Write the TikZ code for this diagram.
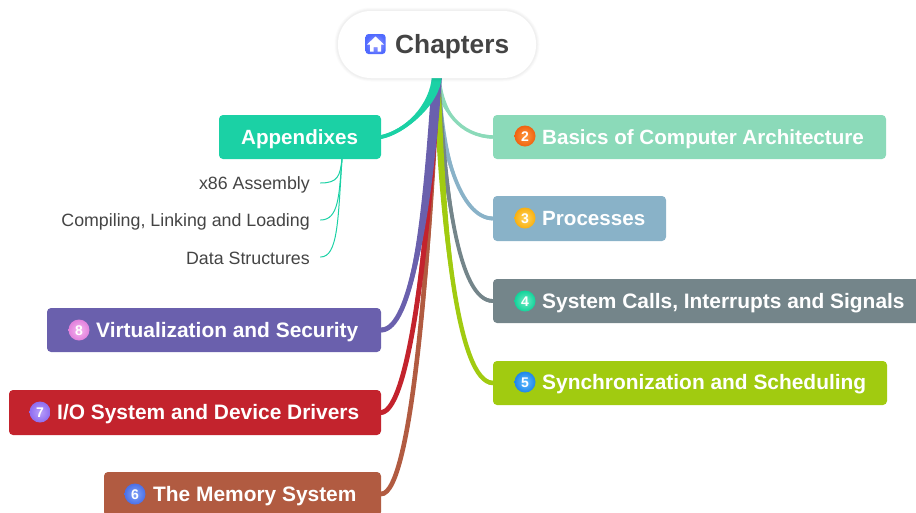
\documentclass[tikz,border=0pt]{standalone}
\usepackage{fontspec}
\setmainfont{Liberation Sans}
\definecolor{cApp}{HTML}{1BD1A5}
\definecolor{cBas}{HTML}{8BDAB9}
\definecolor{cPro}{HTML}{89B2C8}
\definecolor{cSys}{HTML}{74858A}
\definecolor{cSyn}{HTML}{A1CB10}
\definecolor{cVir}{HTML}{6A60AD}
\definecolor{cIO}{HTML}{C3232D}
\definecolor{cMem}{HTML}{B15B41}
\definecolor{cTxt}{HTML}{444444}
\tikzset{
  x=1pt,y=-1pt,
  box/.style={rectangle,rounded corners=4pt,inner sep=0pt,draw=none},
  lbl/.style={anchor=base west,inner sep=0pt,text=white,font=\bfseries\fontsize{20.9}{24}\selectfont},
  lblnarrow/.style={lbl,font=\bfseries\fontsize{20.6}{24}\selectfont},
  sub/.style={anchor=base east,inner sep=0pt,text=cTxt,font=\fontsize{17.8}{20}\selectfont},
  badge/.style={circle,minimum size=21pt,inner sep=0pt,text=white,text height=11pt,text depth=0pt,font=\bfseries\fontsize{14}{16}\selectfont},
  twig/.style={draw=cApp,line width=1pt,line cap=round},
}
% \taper{colour}{end coordinate}{c1x}{c1y}{c2x}{c2y}{half width at start}{half width at end}
\newcommand{\taper}[8]{%
  \fill[#1] ([xshift=-#7pt]hub) .. controls ({#3-#7},#4) and ({#5},{#6-#8}) .. ([yshift=#8pt]#2)
    -- ([yshift=-#8pt]#2) .. controls ({#5},{#6+#8}) and ({#3+#7},#4) .. ([xshift=#7pt]hub) -- cycle;
  \draw[#1,line width=2*#8 pt] (hub) .. controls (#3,#4) and (#5,#6) .. (#2);}
\begin{document}
\begin{tikzpicture}
\useasboundingbox (0,0) rectangle (916,512);
\clip (0,0) rectangle (916,512);
\coordinate (hub) at (437,76);
% branch boxes
\node[box,fill=cApp,minimum width=162pt,minimum height=44pt] (app) at (300,137) {};
\node[box,fill=cBas,minimum width=393pt,minimum height=44pt] (bas) at (689.5,137) {};
\node[box,fill=cPro,minimum width=173pt,minimum height=45pt] (pro) at (579.5,218.5) {};
\node[box,fill=cSys,minimum width=440pt,minimum height=44pt] (sys) at (713,301) {};
\node[box,fill=cSyn,minimum width=394pt,minimum height=44pt] (syn) at (690,383) {};
\node[box,fill=cVir,minimum width=334pt,minimum height=44pt] (vir) at (214,330) {};
\node[box,fill=cIO,minimum width=372pt,minimum height=45pt] (io) at (195,412.5) {};
\node[box,fill=cMem,minimum width=277pt,minimum height=44pt] (mem) at (242.5,494) {};
% connectors
\taper{cBas}{bas.west}{440}{110}{460}{136}{3.5}{1.7}
\taper{cPro}{pro.west}{440}{150}{460}{218}{3.5}{1.9}
\taper{cSys}{sys.west}{445}{190}{458}{301}{3}{1.9}
\taper{cSyn}{syn.west}{442}{230}{458}{382}{3.5}{2.2}
\taper{cMem}{mem.east}{430}{250}{412}{494}{3}{2.3}
\taper{cIO}{io.east}{430}{230}{410}{411}{3.5}{2.4}
\taper{cVir}{vir.east}{428}{210}{412}{330}{5}{2.4}
\taper{cApp}{app.east}{435}{105}{405}{132}{5}{1.9}
% root
\foreach \w/\o in {7/0.015,5/0.02,3/0.025}{
  \draw[black,opacity=\o,line width=\w pt,rounded corners=33pt] (338,11) rectangle (536,78);
}
\node[rectangle,rounded corners=33pt,fill=white,minimum width=198pt,minimum height=67pt,inner sep=0pt] (root) at (437,44.5) {};
\node[rectangle,rounded corners=3pt,inner sep=0pt,minimum size=20pt,inner color=blue!35!white,outer color=blue!65!white!90!cyan] (homeicon) at (375.5,44) {};
\fill[white] (375.5,36.5) -- (384,44.5) -- (381,44.5) -- (381,51.5) -- (377.5,51.5) -- (377.5,47) -- (373.5,47) -- (373.5,51.5) -- (370,51.5) -- (370,44.5) -- (367,44.5) -- cycle;
\node[anchor=base west,inner sep=0pt,text=cTxt,font=\bfseries\fontsize{26.3}{30}\selectfont] (roott) at (395,53) {Chapters};
% labels
\node[lblnarrow] (appt) at (241,144) {Appendixes};
\node[lblnarrow] (bast) at (542,144) {Basics of Computer Architecture};
\node[lblnarrow] (prot) at (542,225) {Processes};
\node[lbl] (syst) at (542,308) {System Calls, Interrupts and Signals};
\node[lbl] (synt) at (542,389) {Synchronization and Scheduling};
\node[lbl] (virt) at (96,337) {Virtualization and Security};
\node[lbl] (iot) at (57,419) {I/O System and Device Drivers};
\node[lbl] (memt) at (153,501) {The Memory System};
% badges
\definecolor{b2o}{HTML}{F0620F}\definecolor{b2i}{HTML}{FF9A40}
\definecolor{b3o}{HTML}{F9B010}\definecolor{b3i}{HTML}{FFD560}
\definecolor{b4o}{HTML}{12D39A}\definecolor{b4i}{HTML}{70EBC5}
\definecolor{b5o}{HTML}{1E86EA}\definecolor{b5i}{HTML}{60BDFF}
\definecolor{b8o}{HTML}{E280DC}\definecolor{b8i}{HTML}{F5B8F0}
\definecolor{b7o}{HTML}{8E6CF0}\definecolor{b7i}{HTML}{B9A0FA}
\definecolor{b6o}{HTML}{4A6FE8}\definecolor{b6i}{HTML}{85A5F8}
\node[badge,inner color=b2i,outer color=b2o] (b2) at (525,136) {2};
\node[badge,inner color=b3i,outer color=b3o] (b3) at (525,218) {3};
\node[badge,inner color=b4i,outer color=b4o] (b4) at (525,301) {4};
\node[badge,inner color=b5i,outer color=b5o] (b5) at (525,382) {5};
\node[badge,inner color=b8i,outer color=b8o] (b8) at (79,330) {8};
\node[badge,inner color=b7i,outer color=b7o] (b7) at (40,412) {7};
\node[badge,inner color=b6i,outer color=b6o] (b6) at (135,494) {6};
% sub topics
\node[sub] (s1) at (310,189) {x86 Assembly};
\node[sub] (s2) at (310,226) {Compiling, Linking and Loading};
\node[sub] (s3) at (310,264) {Data Structures};
\coordinate (t1) at (320.5,183);
\coordinate (t2) at (320.5,220);
\coordinate (t3) at (320.5,257);
\coordinate (tr) at (342,159);
\draw[twig] (tr) .. controls (340,176) and (338,183) .. (t1);
\draw[twig] (tr) .. controls (339,195) and (339,220) .. (t2);
\draw[twig] (tr) .. controls (338,220) and (338,257) .. (t3);
\end{tikzpicture}
\end{document}
